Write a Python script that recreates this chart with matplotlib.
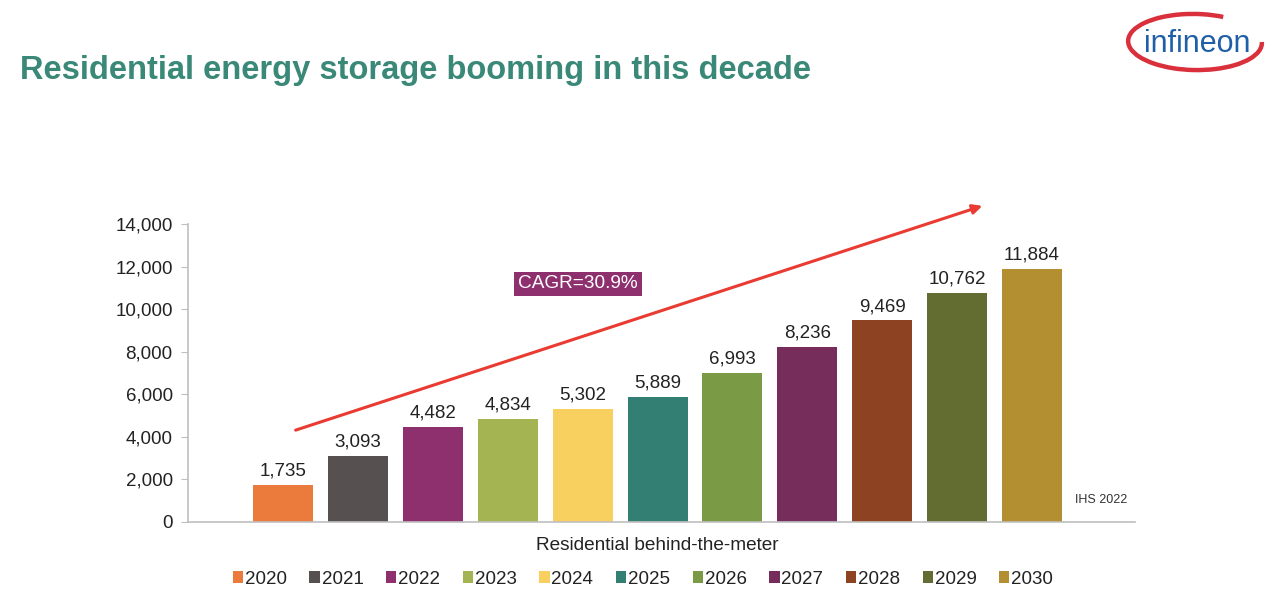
import matplotlib.pyplot as plt
from matplotlib.patches import Arc, FancyArrowPatch

years = ["2020", "2021", "2022", "2023", "2024", "2025", "2026", "2027", "2028", "2029", "2030"]
values = [1735, 3093, 4482, 4834, 5302, 5889, 6993, 8236, 9469, 10762, 11884]
colors = ["#EA7B3D", "#565150", "#8E2F6E", "#A4B452", "#F7D060", "#337F73",
          "#7A9A45", "#762D5C", "#8D4322", "#636D31", "#B38F31"]
yticks = [0, 2000, 4000, 6000, 8000, 10000, 12000, 14000]

plt.rcParams['font.family'] = ['Liberation Sans', 'DejaVu Sans']

W, H = 1285, 606
fig = plt.figure(figsize=(W / 100, H / 100), dpi=100)

def fx(px):
    return px / W

def fy(py):
    return 1 - py / H

left, right, top, bottom = 188, 1135, 224, 522
ax = fig.add_axes([fx(left), fy(bottom), fx(right) - fx(left), fy(top) - fy(bottom)])

pitch = 74.9
c0 = 283
bars = []
for i, (y, v, c) in enumerate(zip(years, values, colors)):
    b = ax.bar(i, v, width=60 / pitch, color=c, label=y, zorder=2)
    bars.append(b)
    ax.text(i, v + 250, f"{v:,}", ha='center', va='bottom', fontsize=13.5, color='#222222')

ax.set_xlim((left - c0) / pitch, (right - c0) / pitch)
ax.set_ylim(0, 14000)
ax.set_yticks(yticks)
ax.set_yticklabels([f"{t:,}" for t in yticks], fontsize=13.5, color='#222222')
ax.set_xticks([])
for s in ['top', 'right']:
    ax.spines[s].set_visible(False)
for s in ['left', 'bottom']:
    ax.spines[s].set_color('#BFBFBF')
    ax.spines[s].set_linewidth(1.2)
ax.tick_params(axis='y', length=5, color='#BFBFBF', pad=6)

fig.text(fx(657), fy(545), "Residential behind-the-meter", ha='center', va='center',
         fontsize=13.7, color='#222222')
fig.text(fx(1075), fy(500), "IHS 2022", ha='left', va='center', fontsize=9, color='#333333')

leg = fig.legend(handles=[b for b in bars], labels=years, loc='center',
                 bbox_to_anchor=(fx(643), fy(579)), ncol=11, frameon=False,
                 fontsize=13.5, handlelength=0.55, handleheight=0.55, handletextpad=0.1,
                 columnspacing=1.2)
for t in leg.get_texts():
    t.set_color('#222222')

# title
fig.text(fx(20), fy(71), "Residential energy storage booming in this decade",
         ha='left', va='center', fontsize=23.5, fontweight='bold', color='#3A8877')

# CAGR arrow
arrow = FancyArrowPatch((fx(293), fy(431)), (fx(985), fy(205)), transform=fig.transFigure,
                        arrowstyle='-|>', mutation_scale=14, color='#EA3B32', linewidth=2.2)
fig.add_artist(arrow)
fig.text(fx(578), fy(284), "CAGR=30.9%", ha='center', va='center', fontsize=13.7,
         color='white', bbox=dict(boxstyle='square,pad=0.2', facecolor='#8E2F6E',
                                  edgecolor='none'))

# logo
arc = Arc((fx(1195), fy(42)), fx(134), 56 / H, angle=-8, theta1=70, theta2=8,
          transform=fig.transFigure, color='#D9303C', linewidth=3.2)
fig.add_artist(arc)
fig.text(fx(1197), fy(52), "infineon", ha='center', va='baseline', fontsize=22,
         color='#1F5FA8')

fig.savefig("out.png", dpi=100)
